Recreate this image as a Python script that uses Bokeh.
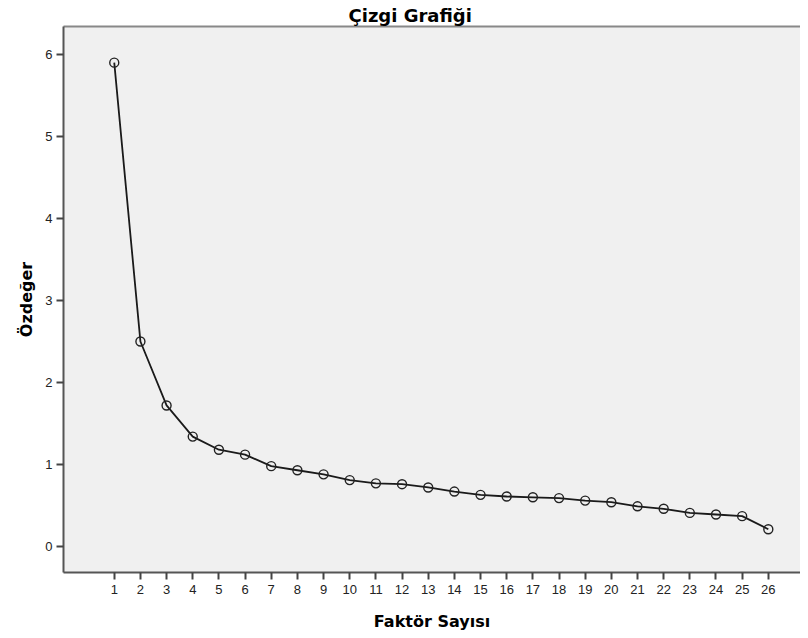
from bokeh.plotting import figure
from bokeh.models import FixedTicker, Range1d, LinearAxis
from bokeh.embed import file_html
from bokeh.resources import INLINE

factors = list(range(1, 27))
eigenvalues = [5.90, 2.50, 1.72, 1.34, 1.18, 1.12, 0.98, 0.93, 0.88, 0.81,
               0.77, 0.76, 0.72, 0.67, 0.63, 0.61, 0.60, 0.59, 0.56, 0.54,
               0.49, 0.46, 0.41, 0.39, 0.37, 0.21]
y_ticks = [0, 1, 2, 3, 4, 5, 6]

TICK_FONT = "Liberation Sans"
LABEL_FONT = "DejaVu Sans"

p = figure(width=800, height=636, output_backend="svg", toolbar_location=None,
           x_range=Range1d(-0.94, 27.23), y_range=Range1d(-0.317, 6.341),
           min_border_left=63, min_border_right=0, min_border_top=26,
           min_border_bottom=64)

p.title.text = "Çizgi Grafiği"
p.title.text_font = LABEL_FONT
p.title.text_font_size = "18px"
p.title.text_font_style = "bold"
p.title.text_color = "#000000"
p.title.align = "left"
p.title.offset = 285
p.title.standoff = 2

p.background_fill_color = "#f0f0f0"
p.border_fill_color = "#ffffff"
p.outline_line_color = None
p.grid.visible = False

p.line(factors, eigenvalues, line_color="#1a1a1a", line_width=1.8)
p.scatter(factors, eigenvalues, marker="circle", size=9, fill_color=None,
          line_color="#222222", line_width=1.4)

xa = p.xaxis[0]
xa.ticker = FixedTicker(ticks=factors)
xa.axis_label = "Faktör Sayısı"
ya = p.yaxis[0]
ya.ticker = FixedTicker(ticks=y_ticks)
ya.axis_label = "Özdeğer"

for ax in (xa, ya):
    ax.axis_line_color = "#555555"
    ax.axis_line_width = 2
    ax.major_tick_line_color = "#444444"
    ax.major_tick_line_width = 2
    ax.major_tick_in = 0
    ax.major_tick_out = 7
    ax.minor_tick_line_color = None
    ax.major_label_text_font = TICK_FONT
    ax.major_label_text_font_size = "13px"
    ax.major_label_text_color = "#222222"
    ax.axis_label_text_font = LABEL_FONT
    ax.axis_label_text_font_size = "16px"
    ax.axis_label_text_font_style = "bold"
    ax.axis_label_text_color = "#000000"

xa.major_label_standoff = 5
xa.axis_label_standoff = 15
ya.major_label_standoff = 4
ya.axis_label_standoff = 6

top = LinearAxis(ticker=FixedTicker(ticks=[]), axis_line_color="#888888",
                 axis_line_width=2, major_label_text_font_size="0px",
                 major_tick_line_color=None, minor_tick_line_color=None)
p.add_layout(top, "above")

open("out.html", "w").write(file_html(p, INLINE))
